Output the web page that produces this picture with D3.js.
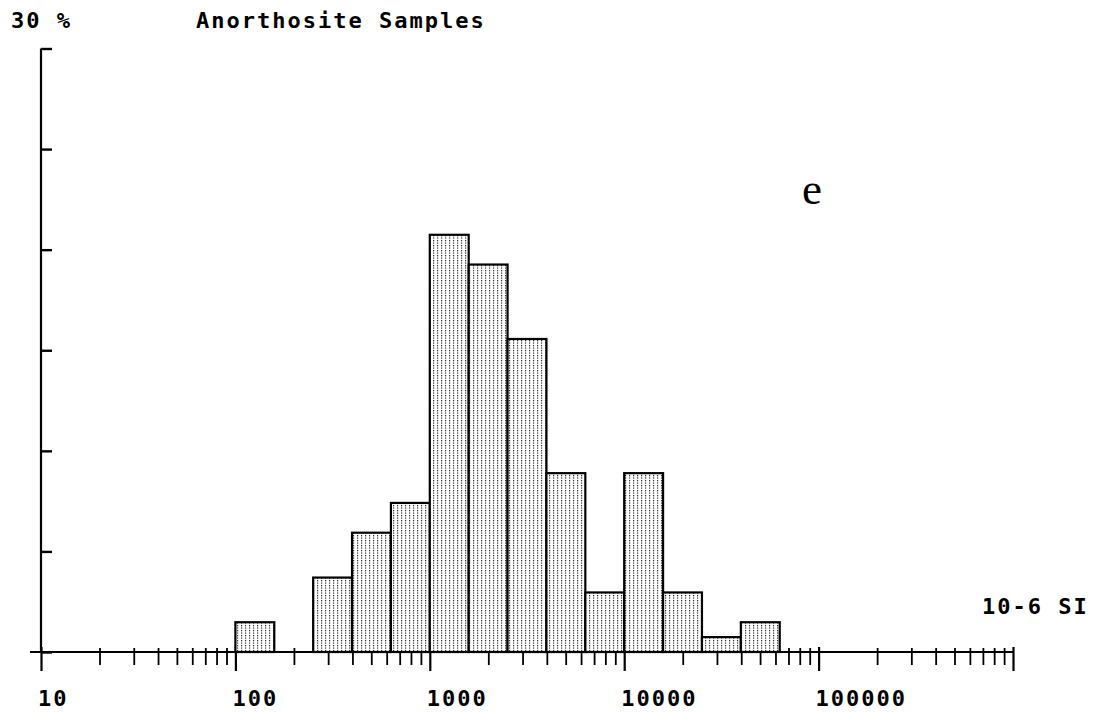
<!DOCTYPE html>
<html><head><meta charset="utf-8">
<script src="https://cdn.jsdelivr.net/npm/d3@7"></script>
<style>
html,body{margin:0;padding:0;background:#fff;}
svg{display:block;}
.lab{font-family:"DejaVu Sans Mono",monospace;font-weight:bold;font-size:22px;letter-spacing:2px;fill:#000;}
</style></head><body>
<svg id="c" width="1107" height="713"></svg>
<script>
// ---- data ----
const title = "Anorthosite Samples";
const yUnitLabel = "30 %";
const xUnitLabel = "10-6 SI";
const panelLetter = "e";
const binEdges = [100, 158.5, 251.2, 398.1, 631.0, 1000, 1585, 2512, 3981, 6310, 10000, 15849, 25119, 39811, 63096];
const percents = [1.48, 0, 3.70, 5.93, 7.41, 20.74, 19.26, 15.56, 8.89, 2.96, 8.89, 2.96, 0.74, 1.48];
const xMajorTicks = [10, 100, 1000, 10000, 100000, 1000000];
const xTickLabels = ["10", "100", "1000", "10000", "100000"];
const yTicks = [0, 5, 10, 15, 20, 25, 30];

// ---- layout ----
const svg = d3.select("#c");
const x = d3.scaleLog().domain([10, 1e6]).range([41, 1013]);
const y = d3.scaleLinear().domain([0, 30]).range([652, 48.5]);

const defs = svg.append("defs");
const pat = defs.append("pattern").attr("id","dots").attr("patternUnits","userSpaceOnUse")
  .attr("width",4).attr("height",2.5);
pat.append("rect").attr("width",4).attr("height",2.5).attr("fill","#fff");
pat.append("rect").attr("x",1).attr("y",0).attr("width",1.2).attr("height",1.2).attr("fill","#222");

// minor ticks
const minor = [];
for (let d = 10; d < 1e6; d *= 10) for (let k = 2; k <= 9; k++) minor.push(d * k);

const gx = svg.append("g").attr("transform", `translate(0,${y(0)})`);
gx.call(d3.axisBottom(x).tickValues(minor).tickSize(13).tickFormat(""));
gx.selectAll(".tick line").attr("y1", -4).attr("stroke-width", 1.8);
const gx2 = svg.append("g").attr("transform", `translate(0,${y(0)})`);
gx2.call(d3.axisBottom(x).tickValues(xMajorTicks).tickSize(19).tickFormat(""));
gx2.selectAll(".tick line").attr("y1", -5).attr("stroke-width", 2.2);
svg.selectAll(".domain").remove();

// bars
const bins = percents.map((p, i) => ({ lo: binEdges[i], hi: binEdges[i + 1], p }));
svg.append("g").selectAll("rect").data(bins.filter(b => b.p > 0)).join("rect")
  .attr("x", b => x(b.lo))
  .attr("width", b => x(b.hi) - x(b.lo))
  .attr("y", b => y(b.p))
  .attr("height", b => y(0) - y(b.p))
  .attr("fill", "url(#dots)")
  .attr("stroke", "#000").attr("stroke-width", 2.2);

// x axis line
svg.append("line").attr("x1", x(10) - 11).attr("x2", x(1e6)).attr("y1", y(0)).attr("y2", y(0))
  .attr("stroke", "#000").attr("stroke-width", 2.2);

// y axis
const gy = svg.append("g").attr("transform", `translate(${x(10)},0)`);
gy.call(d3.axisLeft(y).tickValues(yTicks).tickSize(10).tickFormat(""));
gy.selectAll(".tick line").attr("x2", 11).attr("stroke-width", 2.4);
gy.select(".domain").remove();
svg.append("line").attr("x1", x(10)).attr("x2", x(10)).attr("y1", y(30)).attr("y2", y(0))
  .attr("stroke", "#000").attr("stroke-width", 2.2);

// x tick labels
svg.append("g").selectAll("text").data(xTickLabels).join("text")
  .attr("class", "lab")
  .attr("x", d => x(+d) - 3)
  .attr("y", 706)
  .text(d => d);

// titles
svg.append("text").attr("class","lab").attr("x", 11).attr("y", 28).text(yUnitLabel);
svg.append("text").attr("class","lab").attr("x", 196).attr("y", 28).text(title);
svg.append("text").attr("class","lab").attr("x", 982).attr("y", 614).text(xUnitLabel);
svg.append("text").attr("x", 802).attr("y", 204)
  .attr("font-family", "'Liberation Serif','Times New Roman',serif").attr("font-size", 45)
  .attr("fill", "#000").text(panelLetter);
</script>
</body></html>
